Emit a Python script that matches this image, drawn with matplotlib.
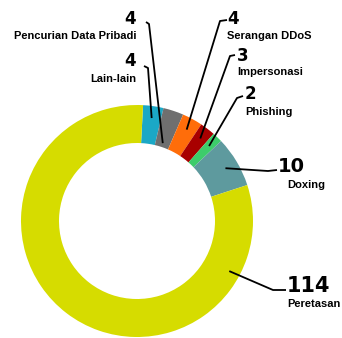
import numpy as np
import matplotlib
matplotlib.use('Agg')
import matplotlib.pyplot as plt

# Data (clockwise from the top)
categories = ['Lain-lain', 'Pencurian Data Pribadi', 'Serangan DDoS',
              'Impersonasi', 'Phishing', 'Doxing', 'Peretasan']
counts = [4, 4, 4, 3, 2, 10, 114]
colors = ['#1ba8c6', '#6f6f6f', '#ff6d0a', '#a80000', '#3dcc6b', '#5e9a9e', '#d6dc00']

W, H = 342, 338

# layout in pixel coords (y from the top)
num_pos = [(136, 61), (136, 19), (227, 19), (237, 56), (245, 94), (278, 166), (287, 286)]
lab_pos = [(136, 79), (136, 36), (227, 36), (237, 72), (245, 112), (287, 185), (287, 304)]
align = ['right', 'right', 'left', 'left', 'left', 'left', 'left']
num_size = [12, 12, 12, 12, 12, 14, 15]
line_end = [(144, 66), (146, 22), (227, 20), (235, 55), (243, 96), (277, 170), (286, 290)]
elbow = [(148, 68), (149, 24), (220, 21), (230, 56), (237, 98), (268, 171), (273, 290)]
anchor_frac = [0.5, 0.5, 0.5, 0.5, 0.5, 0.5, 0.84]
anchor_r = [104, 82, 104, 104, 104, 103, 105]

cx, cy, R = 137, 221, 116

fig = plt.figure(figsize=(W / 100, H / 100), dpi=100)
ax = fig.add_axes([0, 0, 1, 1])

wedges, _ = ax.pie(counts, colors=colors, startangle=87, counterclock=False,
                   radius=R, center=(cx, H - cy),
                   wedgeprops=dict(width=38, linewidth=0))
ax.set_xlim(0, W)
ax.set_ylim(0, H)
ax.set_aspect('auto')
ax.axis('off')

for i, w in enumerate(wedges):
    t1, t2 = min(w.theta1, w.theta2), max(w.theta1, w.theta2)
    ang = np.radians(t1 + anchor_frac[i] * (t2 - t1))
    ax_x = cx + anchor_r[i] * np.cos(ang)
    ax_y = (H - cy) + anchor_r[i] * np.sin(ang)
    xs = [ax_x, elbow[i][0], line_end[i][0]]
    ys = [ax_y, H - elbow[i][1], H - line_end[i][1]]
    ax.plot(xs, ys, color='black', lw=1.3, solid_capstyle='butt')

    ax.text(num_pos[i][0], H - num_pos[i][1], str(counts[i]), ha=align[i], va='center',
            fontsize=num_size[i], fontweight='bold', family='DejaVu Sans')
    ax.text(lab_pos[i][0], H - lab_pos[i][1], categories[i], ha=align[i], va='center',
            fontsize=8, fontweight='bold', family='Liberation Sans', color='black')

fig.savefig('out.png', dpi=100)
